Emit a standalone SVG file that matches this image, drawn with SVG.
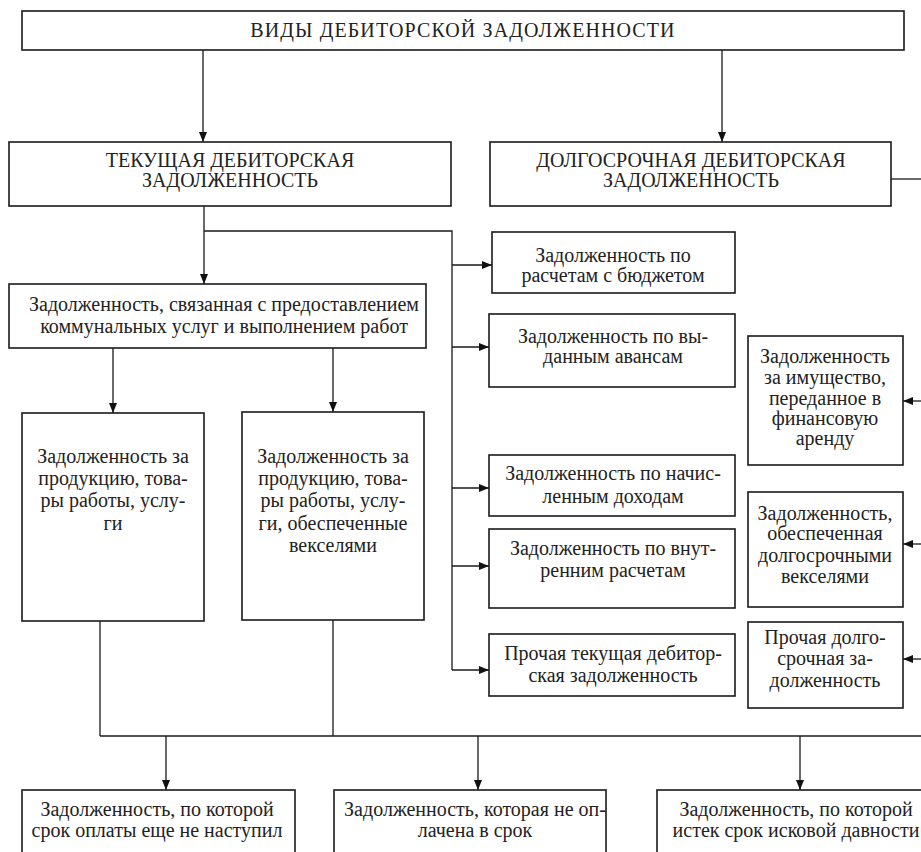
<svg xmlns="http://www.w3.org/2000/svg" width="921" height="852" viewBox="0 0 921 852">
<defs>
<marker id="ah" markerWidth="10" markerHeight="8" refX="10" refY="4" orient="auto" markerUnits="userSpaceOnUse">
<path d="M0,0 L10,4 L0,8 z" fill="#111"/>
</marker>
<style>
rect{fill:#fff;stroke:#1a1a1a;stroke-width:1.6}
text{font-family:"Liberation Serif","Times New Roman",serif;font-size:20px;fill:#222;text-anchor:middle}
.t{letter-spacing:1.1px}
.c path{fill:none;stroke:#1a1a1a;stroke-width:1.3}
.c .a{marker-end:url(#ah)}
</style>
</defs>
<rect x="0" y="0" width="921" height="852" style="fill:#fff;stroke:none"/>
<g class="c" id="connectors">
<path class="a" d="M203,50 V142"/>
<path class="a" d="M722,50 V142"/>
<path class="a" d="M204,206 V284"/>
<path d="M204,231 H452 V670"/>
<path class="a" d="M452,265 H492"/>
<path class="a" d="M452,347 H489"/>
<path class="a" d="M452,488 H489"/>
<path class="a" d="M452,566 H489"/>
<path class="a" d="M452,670 H489"/>
<path class="a" d="M113,348 V413"/>
<path class="a" d="M333,348 V412"/>
<path d="M891,179 H921"/>
<path class="a" d="M921,401 H903"/>
<path class="a" d="M921,544 H903"/>
<path class="a" d="M921,659 H903"/>
<path d="M100,621 V736"/>
<path d="M333,620 V736"/>
<path d="M100,736 H921"/>
<path class="a" d="M166,736 V790"/>
<path class="a" d="M478,736 V790"/>
<path class="a" d="M800,736 V790"/>
</g>
<g id="n-root"><rect x="22" y="11" width="882" height="39"/><text class="t" x="463" y="37">ВИДЫ ДЕБИТОРСКОЙ ЗАДОЛЖЕННОСТИ</text></g>
<g id="n-current"><rect x="9" y="142" width="442" height="64"/><text x="230" y="167">ТЕКУЩАЯ ДЕБИТОРСКАЯ</text><text x="230" y="187">ЗАДОЛЖЕННОСТЬ</text></g>
<g id="n-long"><rect x="490" y="142" width="401" height="64"/><text x="691" y="167">ДОЛГОСРОЧНАЯ ДЕБИТОРСКАЯ</text><text x="691" y="187">ЗАДОЛЖЕННОСТЬ</text></g>
<g id="n-communal"><rect x="9" y="284" width="417" height="64"/><text x="224" y="311">Задолженность, связанная с предоставлением</text><text x="224" y="333">коммунальных услуг и выполнением работ</text></g>
<g id="n-goods"><rect x="22" y="413" width="182" height="208"/><text x="113" y="463">Задолженность за</text><text x="113" y="485">продукцию, това-</text><text x="113" y="507">ры работы, услу-</text><text x="113" y="530">ги</text></g>
<g id="n-goods-bills"><rect x="242" y="412" width="182" height="208"/><text x="333" y="463">Задолженность за</text><text x="333" y="485">продукцию, това-</text><text x="333" y="507">ры работы, услу-</text><text x="333" y="530">ги, обеспеченные</text><text x="333" y="552">векселями</text></g>
<g id="n-budget"><rect x="492" y="232" width="243" height="61"/><text x="613" y="262">Задолженность по</text><text x="613" y="282">расчетам с бюджетом</text></g>
<g id="n-advances"><rect x="489" y="314" width="246" height="73"/><text x="613" y="343">Задолженность по вы-</text><text x="613" y="363">данным авансам</text></g>
<g id="n-accrued"><rect x="489" y="455" width="246" height="61"/><text x="613" y="480">Задолженность по начис-</text><text x="613" y="503">ленным доходам</text></g>
<g id="n-internal"><rect x="489" y="529" width="246" height="79"/><text x="613" y="555">Задолженность по внут-</text><text x="613" y="577">ренним расчетам</text></g>
<g id="n-other-current"><rect x="489" y="634" width="246" height="62"/><text x="613" y="660">Прочая текущая дебитор-</text><text x="613" y="682">ская задолженность</text></g>
<g id="n-lease"><rect x="748" y="336" width="155" height="129"/><text x="825" y="363">Задолженность</text><text x="825" y="384">за имущество,</text><text x="825" y="405">переданное в</text><text x="825" y="425">финансовую</text><text x="825" y="445">аренду</text></g>
<g id="n-long-bills"><rect x="748" y="492" width="155" height="115"/><text x="825" y="520">Задолженность,</text><text x="825" y="540">обеспеченная</text><text x="825" y="562">долгосрочными</text><text x="825" y="583">векселями</text></g>
<g id="n-other-long"><rect x="748" y="622" width="155" height="86"/><text x="825" y="644">Прочая долго-</text><text x="825" y="665">срочная за-</text><text x="825" y="687">долженность</text></g>
<g id="n-not-due"><rect x="22" y="790" width="273" height="70"/><text x="157" y="816">Задолженность, по которой</text><text x="157" y="837">срок оплаты еще не наступил</text></g>
<g id="n-overdue"><rect x="334" y="790" width="272" height="70"/><text x="475" y="816">Задолженность, которая не оп-</text><text x="475" y="837">лачена в срок</text></g>
<g id="n-expired"><rect x="657" y="790" width="280" height="70"/><text x="796" y="816">Задолженность, по которой</text><text x="796" y="837">истек срок исковой давности</text></g>
</svg>
